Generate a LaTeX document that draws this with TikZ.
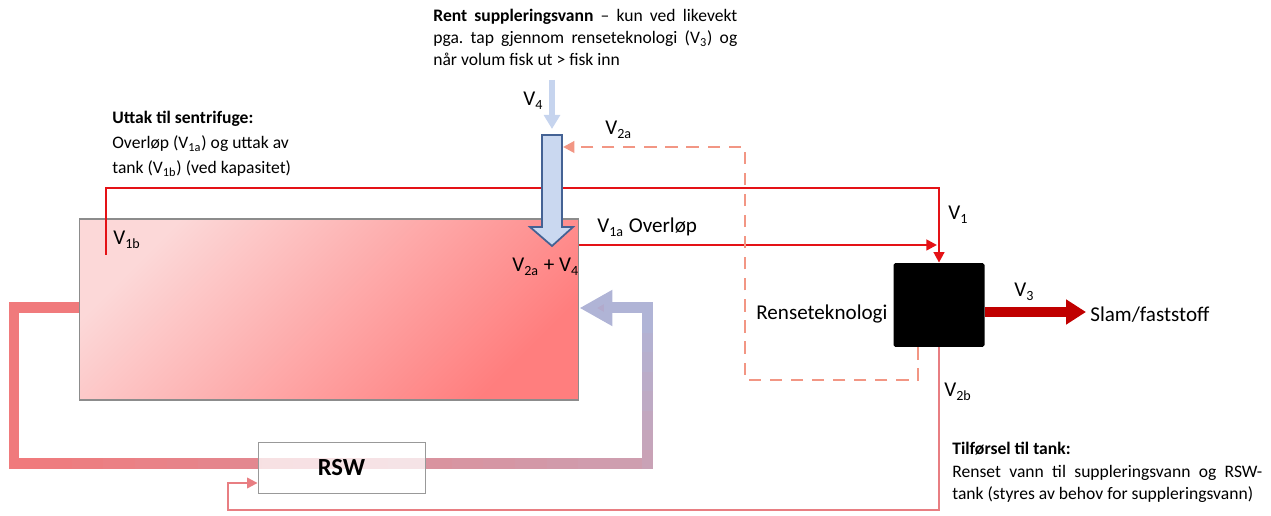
\documentclass[tikz,border=0pt]{standalone}
\usepackage{fontspec}
\setmainfont{Carlito}
\usetikzlibrary{arrows.meta,calc}

\definecolor{flowred}{RGB}{228,18,22}
\definecolor{dashsalmon}{RGB}{242,150,132}
\definecolor{returnrose}{RGB}{232,126,130}
\definecolor{pipeleft}{RGB}{240,122,124}
\definecolor{pipemid}{RGB}{204,160,178}
\definecolor{piperight}{RGB}{176,180,214}
\definecolor{pipehead}{RGB}{178,170,204}
\definecolor{sludgered}{RGB}{192,0,0}
\definecolor{inletfill}{RGB}{202,216,240}
\definecolor{inletdraw}{RGB}{68,98,148}
\definecolor{feedblue}{RGB}{198,212,238}
\definecolor{tanklight}{RGB}{252,216,216}
\definecolor{tankdark}{RGB}{255,126,126}

\tikzset{
  lbl/.style={font=\fontsize{12}{14}\selectfont, inner sep=0pt, anchor=base west},
  para/.style={font=\fontsize{10}{#1}\selectfont\frenchspacing, inner sep=0pt, anchor=north west},
  tankbox/.style={draw=black!45, line width=0.6pt, top color=tanklight, bottom color=tankdark,
    shading angle=45, minimum width=10cm, minimum height=3.62cm, inner sep=0pt},
  unitbox/.style={fill=black, rounded corners=1pt, minimum width=1.82cm, minimum height=1.68cm, inner sep=0pt},
  rswbox/.style={draw=black!40, line width=0.5pt, fill=white, fill opacity=0.75, text opacity=1,
    minimum width=3.34cm, minimum height=1.02cm, font=\fontsize{14}{16}\selectfont\bfseries},
  redflow/.style={draw=flowred, line width=1.4pt, -{Triangle[length=6pt,width=6pt]}},
  dashflow/.style={draw=dashsalmon, line width=1.6pt, dash pattern=on 7pt off 5pt, -{Triangle[length=6.5pt,width=6.5pt]}},
  returnflow/.style={draw=returnrose, line width=1.2pt, -{Triangle[length=6pt,width=6pt]}},
  pipe/.style={line width=0.22cm, line cap=rect},
}

\begin{document}
\begin{tikzpicture}[x=0.02cm, y=-0.02cm]
  \useasboundingbox (0,0) rectangle (1271,516);

  % main blocks
  \node[tankbox] (tank) at (329,309.5) {};
  \node[unitbox] (rens) at (939,305) {};

  % circulation pipe to and from RSW
  \coordinate (pTL) at (14,308);
  \coordinate (pBL) at (14,464);
  \coordinate (pBR) at (647,464);
  \coordinate (pTR) at (647,308);
  \draw[pipe, draw=pipeleft, line cap=butt, line join=miter] (tank.west |- pTL) -- (pTL) -- (pBL) -- ++(20,0);
  \foreach \k in {0,...,19}{
    \pgfmathtruncatemacro\mixval{5*\k}
    \pgfmathsetmacro\xa{14+31.65*\k}
    \pgfmathsetmacro\xb{14+31.65*(\k+1)}
    \draw[pipe, draw=pipemid!\mixval!pipeleft] (\xa,464) -- (\xb,464);
  }
  \foreach \k in {0,...,7}{
    \pgfmathtruncatemacro\mixval{12.5*(\k+1)}
    \pgfmathsetmacro\ya{464-19.5*\k}
    \pgfmathsetmacro\yb{464-19.5*(\k+1)}
    \draw[pipe, draw=piperight!\mixval!pipemid] (647,\ya) -- (647,\yb);
  }
  \draw[pipe, draw=piperight, -{Triangle[length=0.66cm,width=0.68cm,fill=pipehead]}] (pTR) -- (tank.east |- pTR);

  \node[rswbox] (rsw) at (341.5,467.5) {RSW};

  % red flows to cleaning unit
  \coordinate (v1bstart) at (106,255);
  \coordinate (v1top) at (939,188);
  \coordinate (ovlend) at (937,245);
  \draw[redflow] (v1bstart) |- (v1top) -- (rens.north);
  \draw[redflow] (tank.east |- ovlend) -- (ovlend);

  % clean make-up water inlet
  \coordinate (inlettop) at (552,135);
  \coordinate (feedstart) at (552,80);
  \draw[feedblue, line width=3.2pt, -{Triangle[length=8pt,width=9pt]}] (feedstart) -- ($(inlettop)+(0,-6)$);
  \draw[draw=inletdraw, fill=inletfill, line width=1pt, line join=miter]
    (542,135) -- (562,135) -- (562,227) -- (573,227) -- (552,246) -- (530,227) -- (542,227) -- cycle;

  % return flows
  \coordinate (dashturn) at (745,380);
  \coordinate (v2aend) at (563,147);
  \draw[dashflow] ($(rens.south)+(-21,0)$) |- (dashturn) |- (v2aend);
  \coordinate (retBR) at (939,510);
  \coordinate (retBL) at (228,510);
  \draw[returnflow] (rens.south) -- (retBR) -- (retBL) |- ($(rsw.west)+(0,15.5)$);

  % sludge out
  \coordinate (slamend) at (1086,312);
  \draw[sludgered, line width=0.2cm, -{Triangle[length=0.4cm,width=0.48cm]}] (rens.east |- slamend) -- (slamend);

  % labels
  \node[lbl] (v1blbl) at (113,245) {V\textsubscript{1b}};
  \node[lbl] (v2v4lbl) at (512,272) {V\textsubscript{2a} + V\textsubscript{4}};
  \node[lbl] (v1albl) at (597,233) {V\textsubscript{1a} Overløp};
  \node[lbl] (v1lbl) at (948,220) {V\textsubscript{1}};
  \node[lbl] (v3lbl) at (1014,297) {V\textsubscript{3}};
  \node[lbl] (slamlbl) at (1090,322) {Slam/faststoff};
  \node[lbl] (renslbl) at (756,320) {Renseteknologi};
  \node[lbl] (v2blbl) at (944,397) {V\textsubscript{2b}};
  \node[lbl] (v2albl) at (605,135) {V\textsubscript{2a}};
  \node[lbl] (v4lbl) at (523,106) {V\textsubscript{4}};

  % text blocks
  \node[para=12.5, text width=6.08cm, align=justify] (supptxt) at (433,9)
    {\textbf{Rent suppleringsvann} – kun ved likevekt\linebreak pga. tap gjennom renseteknologi (V\textsubscript{3}) og\linebreak når volum fisk ut > fisk inn};
  \node[para=14.2, align=left] (uttaktxt) at (112,111)
    {\textbf{Uttak til sentrifuge:}\\ Overløp (V\textsubscript{1a}) og uttak av\\ tank (V\textsubscript{1b}) (ved kapasitet)};
  \node[para=12.75, text width=6.2cm, align=justify] (tilftxt) at (952,442)
    {\textbf{Tilførsel til tank:}\\ Renset vann til suppleringsvann og RSW-\linebreak tank (styres av behov for suppleringsvann)};
\end{tikzpicture}
\end{document}
